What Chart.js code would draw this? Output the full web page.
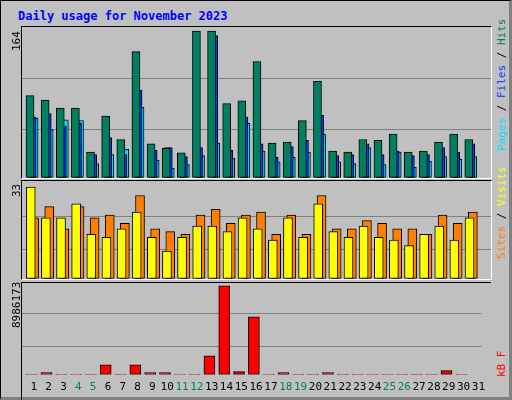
<!DOCTYPE html>
<html>
<head>
<meta charset="utf-8">
<script src="https://cdn.jsdelivr.net/npm/chart.js@4"></script>
<style>
  body { margin: 0; background: #c0c0c0; }
  #frame { position: absolute; left: 0; top: 0; width: 508px; height: 396px; background: #c0c0c0;
           border-top: 1px solid #000; border-left: 1px solid #000; border-right: 3px solid #808080; border-bottom: 3px solid #808080; }
  .panel { position: absolute; left: 20px; width: 469px; border-top: 1px solid #000; border-left: 1px solid #000;
           border-right: 1px solid #fff; border-bottom: 1px solid #fff; }
  .panel canvas { position: absolute; left: 0; top: 0; }
  .txt { position: absolute; font-family: "DejaVu Sans Mono", monospace; font-size: 11px; white-space: nowrap; }
  .rot { transform-origin: left top; transform: rotate(-90deg); }
</style>
</head>
<body>
<div id="frame">
  <div class="txt" style="left:17px;top:8px;font-weight:bold;font-size:12px;color:#0000ff;">Daily usage for November 2023</div>
  <div class="panel" style="top:25px;height:151px;"><canvas id="c1" width="469" height="151"></canvas></div>
  <div class="panel" style="top:179px;height:98px;"><canvas id="c2" width="469" height="98"></canvas></div>
  <div class="panel" style="top:281px;height:117px;border:none;border-top:1px solid #000;border-left:1px solid #000;"><canvas id="c3" width="469" height="117"></canvas></div>
  <div class="txt rot" style="left:9px;top:50px;color:#000;">164</div>
  <div class="txt rot" style="left:9px;top:196px;color:#000;">33</div>
  <div class="txt rot" style="left:9px;top:327px;color:#000;">8986173</div>
  <div class="txt rot" style="left:494px;top:150px;"><span style="color:#00e0ff">Pages</span><span style="color:#000"> / </span><span style="color:#0040ff">Files</span><span style="color:#000"> / </span><span style="color:#008060">Hits</span></div>
  <div class="txt rot" style="left:494px;top:258px;"><span style="color:#ff8000">Sites</span><span style="color:#000"> / </span><span style="color:#ffff00">Visits</span></div>
  <div class="txt rot" style="left:494px;top:376px;color:#ff0000;">kB F</div>
</div>
<script>
const days = Array.from({length: 31}, (_, i) => i + 1);
const weekendDays = [4, 5, 11, 12, 18, 19, 25, 26];
const hits  = [92,87,78,78,29,69,43,141,38,33,28,164,164,83,86,130,39,40,64,108,30,29,43,42,49,29,30,40,49,43,0];
const files = [68,72,58,61,26,45,26,98,31,34,24,34,159,31,68,38,23,35,42,70,25,26,38,26,30,25,26,34,29,38,0];
const pages = [67,54,65,64,16,26,32,79,20,11,15,25,39,22,61,30,18,23,29,49,18,16,34,15,29,12,19,24,21,24,0];
const visits = [33,22,22,27,16,15,18,24,15,10,15,19,19,17,22,18,14,22,15,27,17,15,19,15,14,12,16,19,14,22,0];
const sites  = [22,26,18,26,22,23,20,30,18,17,16,23,25,20,23,24,16,23,16,30,18,18,21,20,18,18,16,23,20,24,0];
const kbytes = [60000,230000,60000,60000,60000,1017000,60000,1017000,230000,230000,60000,60000,1902000,8986173,328000,5838000,60000,230000,60000,60000,230000,60000,60000,60000,60000,60000,60000,60000,426000,60000,0];

const xMin = 0.2, xMax = 31.2;

function pts(values, off) {
  return values.map((v, i) => ({x: days[i] + off, y: v}));
}
function ds(values, off, color, w) {
  return { data: pts(values, off), backgroundColor: color, borderColor: '#000', borderWidth: 1,
           barThickness: w, borderSkipped: false, grouped: false };
}
function makeChart(id, datasets, yMax, gridVals, showX) {
  new Chart(document.getElementById(id), {
    type: 'bar',
    data: { datasets: datasets },
    options: {
      responsive: false, animation: false, events: [],
      layout: { padding: 0 },
      plugins: { legend: { display: false }, tooltip: { enabled: false } },
      scales: {
        x: {
          type: 'linear', min: xMin, max: xMax, offset: false,
          afterBuildTicks: axis => { axis.ticks = days.map(d => ({value: d})); },
          grid: { display: false, drawTicks: false },
          border: { display: false },
          ticks: {
            display: showX, padding: 6, autoSkip: false, maxRotation: 0,
            font: { family: 'DejaVu Sans Mono', size: 11 },
            color: c => weekendDays.includes(c.tick.value) ? '#008060' : '#000'
          }
        },
        y: {
          min: 0, max: yMax,
          afterFit: axis => { axis.width = 0; },
          afterBuildTicks: axis => { axis.ticks = gridVals.map(v => ({value: v})); },
          grid: { color: c => c.tick.value === 0 || c.tick.value === yMax ? 'rgba(0,0,0,0)' : '#808080', drawTicks: false },
          border: { display: false },
          ticks: { display: false }
        }
      }
    }
  });
}

makeChart('c1', [
  ds(hits, -0.27, '#008060', 8),
  ds(files, -0.13, '#0040ff', 8),
  ds(pages, 0, '#00e0ff', 8)
], 168.5, [0, 54.3, 110.8, 168.5], false);

makeChart('c2', [
  ds(visits, -0.22, '#ffff00', 9),
  ds(sites, 0, '#ff8000', 9)
], 35.2, [0, 10.65, 22.6, 35.2], false);

makeChart('c3', [
  ds(kbytes, -0.15, '#ff0000', 11)
], 9260000, [0, 2890000, 6140000, 9260000], true);
</script>
</body>
</html>
